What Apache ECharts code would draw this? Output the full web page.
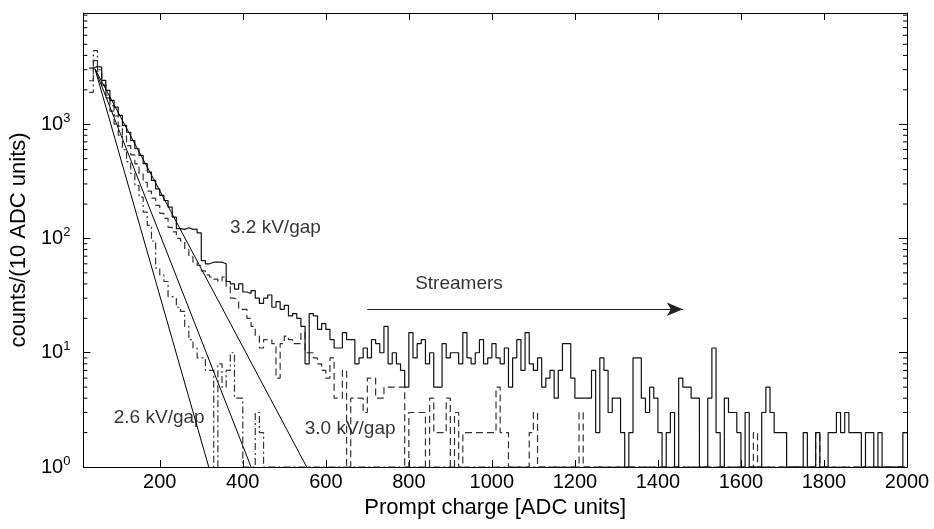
<!DOCTYPE html>
<html>
<head>
<meta charset="utf-8">
<script src="https://cdn.jsdelivr.net/npm/echarts@6/dist/echarts.min.js"></script>
<style>
  html, body { margin: 0; padding: 0; background: #fff; }
  #chart { width: 934px; height: 529px; }
</style>
</head>
<body>
<div id="chart"></div>
<script>
// histogram bins: left edges 30, 40, ... 1990 (10 ADC units wide)
const binStart = 30;
const binWidth = 10;
const xMin = 16;
const xMax = 2000;
const yMin = 1;
const yMax = 9400;

// 3.2 kV/gap (solid)
const counts32 = [
  3100, 3200, 3160, 2420, 1980, 1615, 1410,
  1195, 975, 850, 720, 610, 533, 451, 381, 322, 272,
  238, 215, 188, 154, 122, 120, 124, 120, 121, 112,
  64, 60, 62, 62, 62, 60, 42, 40, 36, 40,
  34, 33, 35, 30, 27, 30, 32, 25, 28, 24,
  26, 21, 22, 20, 17, 8, 22, 21, 16, 18,
  16, 13, 11, 11, 15, 13, 13, 8, 9, 11,
  9, 13, 12, 10, 17, 8, 10, 8, 7, 5,
  15, 9, 12, 13, 8, 10, 5, 5, 12, 9,
  10, 10, 8, 15, 9, 8, 10, 13, 8, 9,
  12, 9, 8, 11, 5, 9, 13, 7, 15, 8,
  7, 9, 5, 6, 7, 4, 7, 12, 12, 6,
  4, 4, 4, 4, 7, 2, 9, 7, 3, 4,
  4, 2, 1, 2, 9, 9, 4, 3, 5, 4,
  2, 1, 2, 3, 1, 6, 5, 5, 4, 4,
  1, 1, 4, 11, 2, 1, 4, 3, 3, 2,
  1, 3, 1, 1, 1, 3, 5, 3, 2, 2,
  2, 1, 1, 1, 1, 2, 1, 1, 2, 1,
  1, 2, 2, 3, 2, 3, 2, 2, 2, 1,
  2, 2, 1, 2, 1, 1, 1, 1, 1, 2
];

// 3.0 kV/gap (dashed)
const counts30 = [
  2400, 3600, 2900, 2200, 1800, 1450, 1180,
  960, 790, 650, 540, 450, 370, 310, 260, 225, 195,
  166, 150, 125, 114, 100, 95, 80, 69, 62, 58,
  52, 48, 46, 44, 42, 46, 38, 30, 29, 24,
  24, 20, 17, 14, 11, 13, 13, 12, 6, 12,
  14, 13, 12, 12, 15, 10, 10, 9, 8, 7,
  6, 9, 4, 4, 7, 1, 4, 4, 4, 3,
  6, 6, 4, 4, 5, 5, 5, 5, 5, 1,
  3, 3, 3, 3, 1, 4, 2, 2, 2, 4,
  1, 3, 1, 2, 2, 2, 2, 2, 2, 2,
  2, 5, 2, 2, 1, 1, 1, 1, 1, 2,
  3, 1, 1, 1, 1, 1, 1, 1, 1, 1,
  1, 3, 1, 1, 1, 1, 1, 1, 1, 1,
  1, 1, 1, 1, 1, 1, 1, 1, 1, 1,
  1, 1, 1, 1, 1, 1, 1, 1, 1, 1,
  1, 1, 1, 1, 1, 1, 1, 1, 1, 1,
  1, 1, 1, 2, 1, 1, 1, 1, 1, 1,
  1, 1, 1, 1, 1, 1, 1, 1, 2, 1,
  1, 1, 1, 1, 1, 1, 1, 1, 1, 1,
  1, 1, 1, 1, 1, 1, 1, 1, 1, 1
];

// 2.6 kV/gap (dash-dot)
const counts26 = [
  1900, 4400, 3000, 2200, 1700, 1300, 1000,
  800, 600, 470, 370, 290, 230, 170, 130, 95, 55,
  48, 42, 31, 30, 25, 23, 17, 13, 11, 9,
  9, 7, 7, 1, 8, 5, 7, 10, 4, 4,
  1, 1, 1, 3, 2, 1, 1, 1, 1, 1,
  1, 1, 1, 1, 1, 1, 1, 1, 1, 1,
  1, 1, 1, 1, 1, 1, 1, 1, 1, 1,
  1, 1, 1, 1, 1, 1, 1, 1, 1, 1,
  1, 1, 1, 1, 1, 1, 1, 1, 1, 1,
  1, 1, 1, 1, 1, 1, 1, 1, 1, 1,
  1, 1, 1, 1, 1, 1, 1, 1, 1, 1,
  1, 1, 1, 1, 1, 1, 1, 1, 1, 1,
  1, 1, 1, 1, 1, 1, 1, 1, 1, 1,
  1, 1, 1, 1, 1, 1, 1, 1, 1, 1,
  1, 1, 1, 1, 1, 1, 1, 1, 1, 1,
  1, 1, 1, 1, 1, 1, 1, 1, 1, 1,
  1, 1, 1, 1, 1, 1, 1, 1, 1, 1,
  1, 1, 1, 1, 1, 1, 1, 1, 1, 1,
  1, 1, 1, 1, 1, 1, 1, 1, 1, 1,
  1, 1, 1, 1, 1, 1, 1, 1, 1, 1
];

// exponential fits (straight on the log axis)
const fitSteep = [[44, 3050], [318, 1]];
const fitMid = [[44, 3050], [420, 1]];
const fitFlat = [[44, 3050], [554, 1]];

const xTicks = [200, 400, 600, 800, 1000, 1200, 1400, 1600, 1800, 2000];
const yMinorTicks = [2, 3, 4, 5, 6, 7, 8, 9, 20, 30, 40, 50, 60, 70, 80, 90,
  200, 300, 400, 500, 600, 700, 800, 900, 2000, 3000, 4000, 5000, 6000, 7000, 8000, 9000];

const noteText = ['3.2 kV/gap', '3.0 kV/gap', '2.6 kV/gap', 'Streamers'];
const noteX = [368, 548, 88, 814];
const noteY = [125, 2.14, 2.69, 40.5];
const arrowFrom = [700, 24];
const arrowTo = [1460, 24];

const font = '"Liberation Sans", Arial, sans-serif';

function toSteps(counts) {
  const pts = counts.map((c, i) => [binStart + i * binWidth, c]);
  pts.push([binStart + counts.length * binWidth, counts[counts.length - 1]]);
  return pts;
}

function histSeries(name, counts, dash, color) {
  return {
    name: name,
    type: 'line',
    step: 'end',
    data: toSteps(counts),
    showSymbol: false,
    lineStyle: { color: color, width: 1.2, type: dash },
    z: 3
  };
}

function fitSeries(data) {
  return {
    type: 'line',
    data: data,
    showSymbol: false,
    lineStyle: { color: '#000', width: 1 },
    z: 4
  };
}

const chart = echarts.init(document.getElementById('chart'));

chart.setOption({
  animation: false,
  backgroundColor: '#fff',
  textStyle: { fontFamily: font, color: '#000' },
  grid: { left: 80, right: 27, top: 13, bottom: 62 },
  xAxis: [{
    type: 'value',
    min: xMin,
    max: xMax,
    position: 'bottom',
    name: 'Prompt charge [ADC units]',
    nameLocation: 'middle',
    nameGap: 27,
    nameTextStyle: { fontSize: 22, color: '#000', fontFamily: font },
    axisLine: { lineStyle: { color: '#000', width: 1 } },
    axisTick: { inside: true, length: 7, customValues: xTicks, lineStyle: { color: '#000' } },
    axisLabel: {
      customValues: xTicks,
      formatter: v => String(v),
      fontSize: 20,
      color: '#000',
      margin: 5,
      fontFamily: font
    },
    splitLine: { show: false }
  }, {
    type: 'value',
    min: xMin,
    max: xMax,
    position: 'top',
    axisLine: { lineStyle: { color: '#000', width: 1 } },
    axisTick: { inside: true, length: 7, customValues: xTicks, lineStyle: { color: '#000' } },
    axisLabel: { show: false },
    splitLine: { show: false }
  }],
  yAxis: [{
    type: 'log',
    logBase: 10,
    min: yMin,
    max: yMax,
    position: 'left',
    name: 'counts/(10 ADC units)',
    nameLocation: 'middle',
    nameGap: 50,
    nameRotate: 90,
    nameTextStyle: { fontSize: 22, color: '#000', fontFamily: font },
    axisLine: { show: true, lineStyle: { color: '#000', width: 1 } },
    axisTick: { inside: true, length: 7, lineStyle: { color: '#000' } },
    axisLabel: {
      margin: 13,
      showMaxLabel: false,
      formatter: v => v > 5000 ? '' : '{b|10}{s|' + Math.round(Math.log10(v)) + '}',
      rich: {
        b: { fontSize: 20, color: '#000', fontFamily: font },
        s: { fontSize: 13, color: '#000', fontFamily: font, verticalAlign: 'top', padding: [0, 0, 12, 0] }
      }
    },
    splitLine: { show: false }
  }, {
    type: 'log',
    logBase: 10,
    min: yMin,
    max: yMax,
    position: 'right',
    axisLine: { show: true, lineStyle: { color: '#000', width: 1 } },
    axisTick: { inside: true, length: 8, lineStyle: { color: '#000' } },
    axisLabel: { show: false },
    splitLine: { show: false }
  }],
  series: [
    histSeries('2.6 kV/gap', counts26, [7, 3, 2, 3], '#333'),
    histSeries('3.0 kV/gap', counts30, [7, 4], '#333'),
    histSeries('3.2 kV/gap', counts32, 'solid', '#111'),
    fitSeries(fitSteep),
    fitSeries(fitMid),
    fitSeries(fitFlat),
    {
      type: 'custom',
      silent: true,
      clip: false,
      data: yMinorTicks.map(v => [xMin, v]),
      renderItem: function (params, api) {
        const v = api.value(1);
        const l = api.coord([xMin, v]);
        const r = api.coord([xMax, v]);
        return {
          type: 'group',
          children: [
            { type: 'line', shape: { x1: l[0], y1: l[1], x2: l[0] + 4, y2: l[1] }, style: { stroke: '#000', lineWidth: 1 } },
            { type: 'line', shape: { x1: r[0], y1: r[1], x2: r[0] - 4, y2: r[1] }, style: { stroke: '#000', lineWidth: 1 } }
          ]
        };
      },
      z: 5
    },
    {
      type: 'scatter',
      silent: true,
      symbolSize: 1,
      itemStyle: { color: 'rgba(0,0,0,0)' },
      data: noteText.map((t, i) => [noteX[i], noteY[i], t]),
      label: {
        show: true,
        position: 'right',
        distance: 0,
        formatter: p => p.value[2],
        fontSize: 19,
        color: '#000',
        fontFamily: font
      },
      markLine: {
        silent: true,
        symbol: ['none', 'arrow'],
        symbolSize: [10, 16],
        label: { show: false },
        lineStyle: { color: '#222', width: 1.2, type: 'solid' },
        data: [[{ coord: arrowFrom }, { coord: arrowTo }]]
      },
      z: 6
    }
  ]
});
</script>
</body>
</html>
